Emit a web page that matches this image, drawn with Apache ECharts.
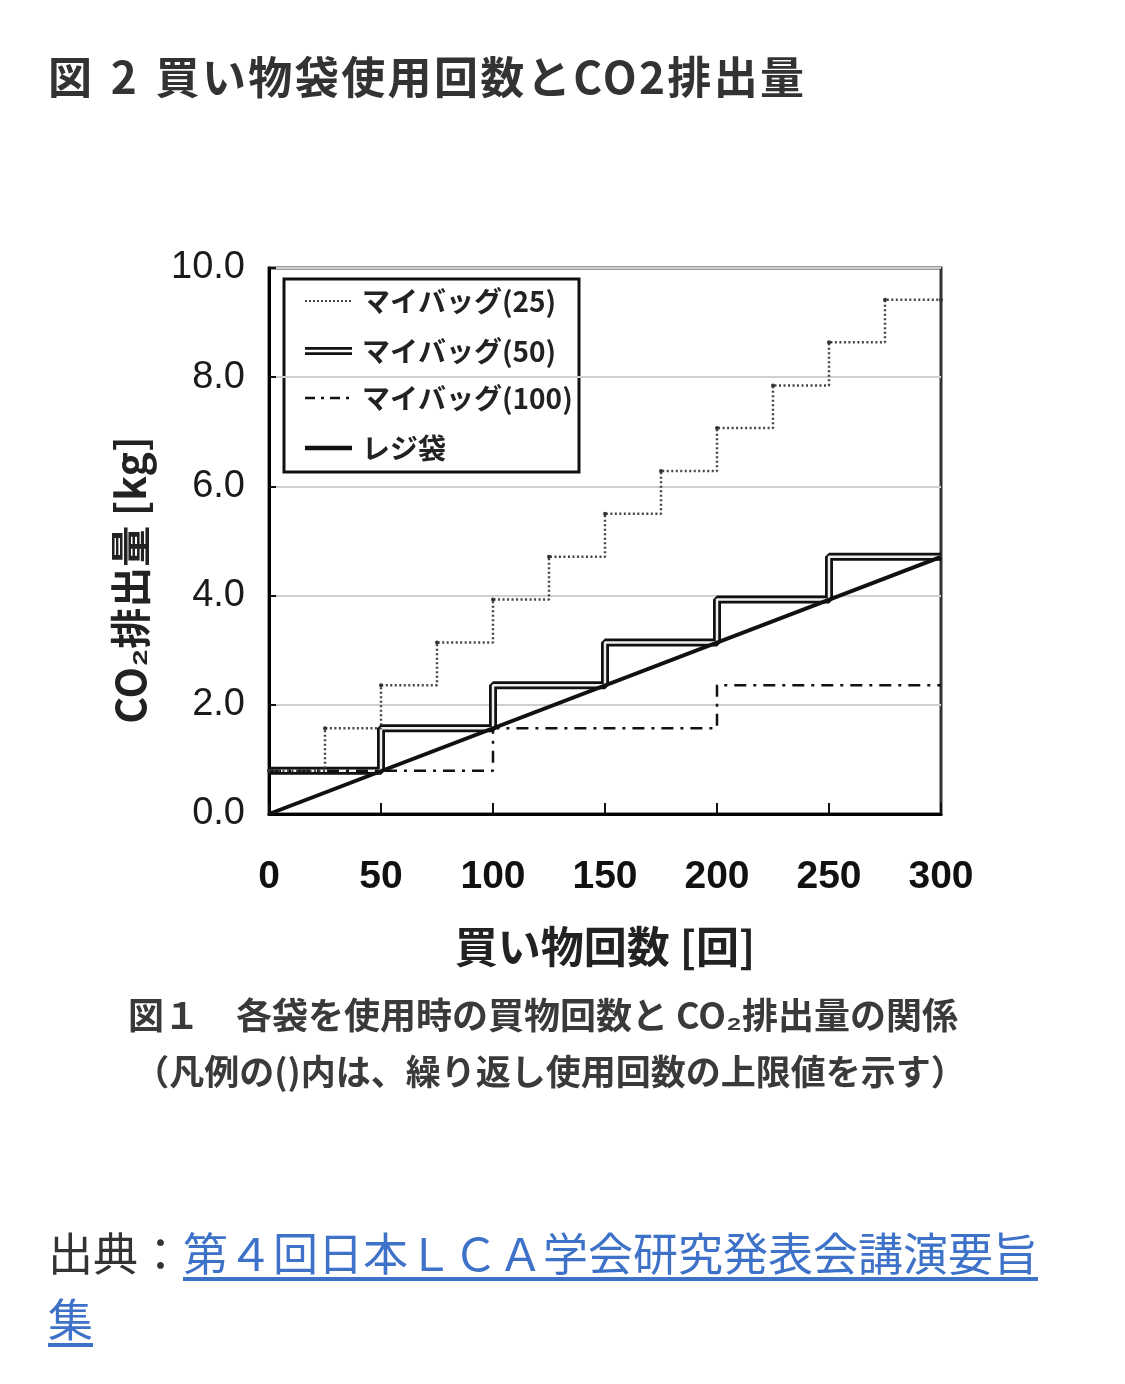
<!DOCTYPE html>
<html><head><meta charset="utf-8">
<script src="https://cdn.jsdelivr.net/npm/echarts@6/dist/echarts.min.js"></script>
<style>
html,body{margin:0;padding:0;background:#fff;}
#chart{position:absolute;left:0;top:0;width:1125px;height:1384px;}
#title{position:absolute;left:48px;top:50px;font:bold 44px/50px "Noto Sans CJK JP";letter-spacing:2.4px;word-spacing:4px;color:#333;white-space:nowrap;}
#src{position:absolute;left:48px;top:1219px;width:1012px;font:45px/66px "Noto Sans CJK JP";color:#333;}
#src a{color:#3d72c8;text-decoration:underline;text-underline-offset:6px;}
</style></head><body>
<div id="chart"></div>
<div id="title">図 2 買い物袋使用回数とCO2排出量</div>
<div id="src">出典：<a href="#">第４回日本ＬＣＡ学会研究発表会講演要旨集</a></div>
<script>
// ---- data ----
const xTicks = [0, 50, 100, 150, 200, 250, 300];
const yTicks = [0, 2, 4, 6, 8, 10];
const seriesNames = ['マイバッグ(25)', 'マイバッグ(50)', 'マイバッグ(100)', 'レジ袋'];
const uses25 = [0, 25, 50, 75, 100, 125, 150, 175, 200, 225, 250, 275, 300];
const bag25 = [0.79, 1.57, 2.36, 3.14, 3.93, 4.71, 5.50, 6.28, 7.07, 7.85, 8.64, 9.42, 9.42];
const uses50 = [0, 50, 100, 150, 200, 250, 300];
const bag50 = [0.79, 1.57, 2.36, 3.14, 3.93, 4.71, 4.71];
const uses100 = [0, 100, 200, 300];
const bag100 = [0.79, 1.57, 2.36, 2.36];
const usesReji = [0, 300];
const reji = [0, 4.71];
const xAxisName = '買い物回数 [回]';
const yAxisName = 'CO₂排出量 [kg]';
const caption1 = '図１　各袋を使用時の買物回数と CO₂排出量の関係';
const caption2 = '（凡例の()内は、繰り返し使用回数の上限値を示す）';

const zip = (xs, ys) => xs.map((x, i) => [x, ys[i]]);
const FONT_NUM = '"Liberation Sans", Arial, sans-serif';
const FONT_JP = '"Noto Sans CJK JP", sans-serif';

const chart = echarts.init(document.getElementById('chart'));

// legend drawn as graphic
const lx1 = 305, lx2 = 352, ltx = 362;
const rows = [301, 351, 398, 448];
const legendGroup = {
  type: 'group', z: 100,
  children: [
    {type: 'rect', shape: {x: 284, y: 279, width: 295, height: 193},
     style: {fill: '#fff', stroke: '#111', lineWidth: 3}},
    {type: 'line', shape: {x1: lx1, y1: rows[0], x2: lx2, y2: rows[0]},
     style: {stroke: '#444', lineWidth: 2, lineDash: [2, 2]}},
    {type: 'line', shape: {x1: lx1, y1: rows[1], x2: lx2, y2: rows[1]},
     style: {stroke: '#111', lineWidth: 8}},
    {type: 'line', shape: {x1: lx1, y1: rows[1], x2: lx2, y2: rows[1]},
     style: {stroke: '#fff', lineWidth: 2.5}},
    {type: 'line', shape: {x1: lx1, y1: rows[2], x2: lx2, y2: rows[2]},
     style: {stroke: '#111', lineWidth: 2.5, lineDash: [10, 6, 3, 6]}},
    {type: 'line', shape: {x1: lx1, y1: rows[3], x2: lx2, y2: rows[3]},
     style: {stroke: '#111', lineWidth: 4.5}},
  ].concat(seriesNames.map((n, i) => ({
    type: 'text', x: ltx, y: rows[i],
    style: {text: n, font: 'bold 28px ' + FONT_JP, fill: '#222', align: 'left', verticalAlign: 'middle'}
  })))
};

chart.setOption({
  animation: false,
  backgroundColor: '#fff',
  grid: {left: 269, right: 184, top: 268, bottom: 570, show: true,
         borderColor: '#333', borderWidth: 3, containLabel: false},
  xAxis: {
    type: 'value', min: xTicks[0], max: xTicks[xTicks.length - 1], interval: 50,
    axisLine: {show: true, lineStyle: {color: '#000', width: 3}},
    axisTick: {show: true, inside: true, length: 11, lineStyle: {color: '#111', width: 2}},
    axisLabel: {fontSize: 39, fontWeight: 'bold', color: '#111', margin: 44, fontFamily: FONT_NUM},
    splitLine: {show: false},
    name: xAxisName, nameLocation: 'middle', nameGap: 111,
    nameTextStyle: {fontSize: 43, fontWeight: 'bold', color: '#222', fontFamily: FONT_JP}
  },
  yAxis: {
    type: 'value', min: yTicks[0], max: yTicks[yTicks.length - 1], interval: 2,
    axisLine: {show: true, lineStyle: {color: '#000', width: 3}},
    axisTick: {show: true, inside: true, length: 7, lineStyle: {color: '#111', width: 2}},
    axisLabel: {fontSize: 38, color: '#1a1a1a', margin: 24, fontFamily: FONT_NUM,
                formatter: v => v.toFixed(1)},
    splitLine: {show: true, lineStyle: {color: '#cfcfcf', width: 2}}
  },
  graphic: [
    {type: 'text', x: 130, y: 580, rotation: Math.PI / 2,
     style: {text: yAxisName, font: 'bold 41px ' + FONT_JP, fill: '#222', align: 'center', verticalAlign: 'middle'}},
    {type: 'text', x: 543, y: 1015,
     style: {text: caption1, font: 'bold 36px ' + FONT_JP, fill: '#3a3a3a', align: 'center', verticalAlign: 'middle'}},
    {type: 'text', x: 550, y: 1072,
     style: {text: caption2, font: 'bold 35px ' + FONT_JP, fill: '#3a3a3a', align: 'center', verticalAlign: 'middle'}},
    legendGroup
  ],
  series: [
    {name: seriesNames[1], type: 'line', step: 'end', data: zip(uses50, bag50), showSymbol: false,
     lineStyle: {color: '#111', width: 8}, z: 2},
    {name: seriesNames[1] + ' inner', type: 'line', step: 'end', data: zip(uses50, bag50), showSymbol: false,
     lineStyle: {color: '#eeeeee', width: 2.5}, z: 3},
    {name: seriesNames[2], type: 'line', step: 'end', data: zip(uses100, bag100), showSymbol: false,
     lineStyle: {color: '#111', width: 2.5, type: [12, 7, 3, 7]}, z: 4},
    {name: seriesNames[0], type: 'line', step: 'end', data: zip(uses25, bag25),
     showSymbol: true, symbol: 'circle', symbolSize: 4, itemStyle: {color: '#333'},
     lineStyle: {color: '#444', width: 2.5, type: [2, 2.5]}, z: 5},
    {name: seriesNames[3], type: 'line', data: zip(usesReji, reji), showSymbol: false,
     lineStyle: {color: '#111', width: 4}, z: 6}
  ]
});
</script>
</body></html>
